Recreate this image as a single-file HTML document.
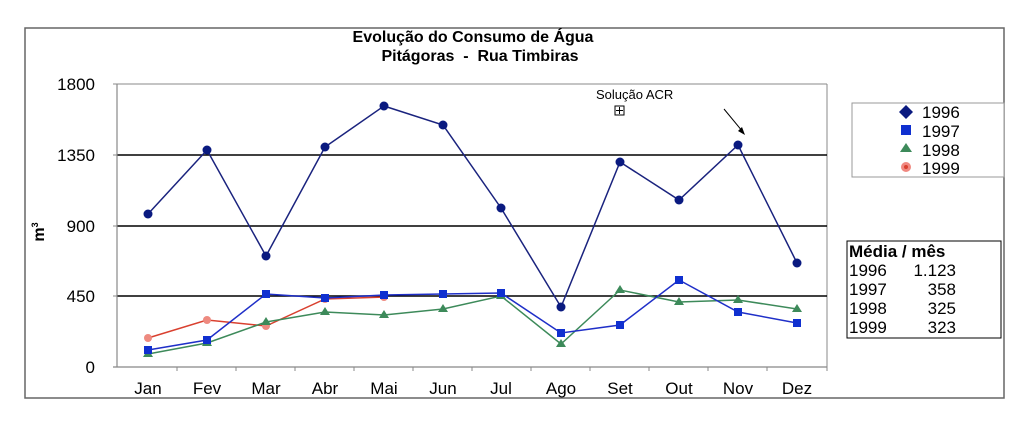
<!DOCTYPE html>
<html><head><meta charset="utf-8"><style>html,body{margin:0;padding:0;background:#fff}svg{display:block}</style></head>
<body>
<svg width="1024" height="421" xmlns="http://www.w3.org/2000/svg" font-family="Liberation Sans, Arial, sans-serif">
<rect x="25" y="28" width="979" height="370" fill="#fff" stroke="#666" stroke-width="1.5"/>
<text x="473" y="42" font-size="16" font-weight="bold" text-anchor="middle">Evolução do Consumo de Água</text>
<text x="480" y="61" font-size="16" font-weight="bold" text-anchor="middle">Pitágoras &#160;- &#160;Rua Timbiras</text>
<!-- plot -->
<line x1="117" y1="84" x2="827" y2="84" stroke="#888" stroke-width="1"/>
<line x1="827" y1="84" x2="827" y2="367" stroke="#888" stroke-width="1"/>
<line x1="117" y1="155" x2="827" y2="155" stroke="#000" stroke-width="1.5"/>
<line x1="117" y1="226" x2="827" y2="226" stroke="#000" stroke-width="1.5"/>
<line x1="117" y1="296" x2="827" y2="296" stroke="#000" stroke-width="1.5"/>
<line x1="117" y1="84" x2="117" y2="367" stroke="#888" stroke-width="1.2"/>
<line x1="113" y1="367" x2="827" y2="367" stroke="#888" stroke-width="1.2"/>
<g stroke="#888" stroke-width="1">
<line x1="113" y1="84" x2="117" y2="84"/><line x1="113" y1="155" x2="117" y2="155"/><line x1="113" y1="226" x2="117" y2="226"/><line x1="113" y1="296" x2="117" y2="296"/>
<line x1="177" y1="367" x2="177" y2="371"/><line x1="236" y1="367" x2="236" y2="371"/><line x1="295" y1="367" x2="295" y2="371"/><line x1="354" y1="367" x2="354" y2="371"/><line x1="413" y1="367" x2="413" y2="371"/><line x1="472" y1="367" x2="472" y2="371"/><line x1="531" y1="367" x2="531" y2="371"/><line x1="590" y1="367" x2="590" y2="371"/><line x1="649" y1="367" x2="649" y2="371"/><line x1="708" y1="367" x2="708" y2="371"/><line x1="767" y1="367" x2="767" y2="371"/><line x1="827" y1="367" x2="827" y2="371"/>
</g>
<g font-size="17" text-anchor="end">
<text x="95" y="90">1800</text><text x="95" y="161">1350</text><text x="95" y="232">900</text><text x="95" y="302">450</text><text x="95" y="373">0</text>
</g>
<text transform="translate(44,232) rotate(-90)" font-size="16" font-weight="bold" text-anchor="middle">m<tspan dy="-6" font-size="9">3</tspan></text>
<g font-size="17" text-anchor="middle">
<text x="148" y="394">Jan</text><text x="207" y="394">Fev</text><text x="266" y="394">Mar</text><text x="325" y="394">Abr</text><text x="384" y="394">Mai</text><text x="443" y="394">Jun</text><text x="501" y="394">Jul</text><text x="561" y="394">Ago</text><text x="620" y="394">Set</text><text x="679" y="394">Out</text><text x="738" y="394">Nov</text><text x="797" y="394">Dez</text>
</g>
<!-- 1999 -->
<polyline fill="none" stroke="#d9402f" stroke-width="1.5" points="148,338 207,320 266,326 325,299 384,297"/>
<g fill="#ee8a80"><circle cx="148" cy="338" r="4"/><circle cx="207" cy="320" r="4"/><circle cx="266" cy="326" r="4"/><circle cx="325" cy="299" r="4"/><circle cx="384" cy="297" r="4"/></g>
<!-- 1998 -->
<polyline fill="none" stroke="#3d8a5a" stroke-width="1.5" points="148,354 207,343 266,322 325,312 384,315 443,309 501,296 561,344 620,290 679,302 738,300 797,309"/>
<g fill="#3d8a5a">
<polygon points="148,349 153,357 143,357"/><polygon points="207,338 212,346 202,346"/><polygon points="266,317 271,325 261,325"/><polygon points="325,307 330,315 320,315"/><polygon points="384,310 389,318 379,318"/><polygon points="443,304 448,312 438,312"/><polygon points="501,291 506,299 496,299"/><polygon points="561,339 566,347 556,347"/><polygon points="620,285 625,293 615,293"/><polygon points="679,297 684,305 674,305"/><polygon points="738,295 743,303 733,303"/><polygon points="797,304 802,312 792,312"/>
</g>
<!-- 1997 -->
<polyline fill="none" stroke="#1f2fc8" stroke-width="1.5" points="148,350 207,340 266,294 325,298 384,295 443,294 501,293 561,333 620,325 679,280 738,312 797,323"/>
<g fill="#1030d0">
<rect x="144" y="346" width="8" height="8"/><rect x="203" y="336" width="8" height="8"/><rect x="262" y="290" width="8" height="8"/><rect x="321" y="294" width="8" height="8"/><rect x="380" y="291" width="8" height="8"/><rect x="439" y="290" width="8" height="8"/><rect x="497" y="289" width="8" height="8"/><rect x="557" y="329" width="8" height="8"/><rect x="616" y="321" width="8" height="8"/><rect x="675" y="276" width="8" height="8"/><rect x="734" y="308" width="8" height="8"/><rect x="793" y="319" width="8" height="8"/>
</g>
<!-- 1996 -->
<polyline fill="none" stroke="#1a237e" stroke-width="1.5" points="148,214 207,150 266,256 325,147 384,106 443,125 501,208 561,307 620,162 679,200 738,145 797,263"/>
<g fill="#0a1a80">
<circle cx="148" cy="214" r="4.5"/><circle cx="207" cy="150" r="4.5"/><circle cx="266" cy="256" r="4.5"/><circle cx="325" cy="147" r="4.5"/><circle cx="384" cy="106" r="4.5"/><circle cx="443" cy="125" r="4.5"/><circle cx="501" cy="208" r="4.5"/><circle cx="561" cy="307" r="4.5"/><circle cx="620" cy="162" r="4.5"/><circle cx="679" cy="200" r="4.5"/><circle cx="738" cy="145" r="4.5"/><circle cx="797" cy="263" r="4.5"/>
</g>
<text x="596" y="99" font-size="13">Solução ACR</text>
<rect x="615" y="106" width="9" height="9" fill="#fff" stroke="#000" stroke-width="1"/>
<line x1="619.5" y1="107" x2="619.5" y2="114" stroke="#000"/><line x1="616" y1="110.5" x2="623" y2="110.5" stroke="#000"/>
<line x1="724" y1="109" x2="743" y2="132" stroke="#000" stroke-width="1"/>
<polygon points="745,135 738,131 742,127" fill="#000"/>
<!-- legend -->
<rect x="852" y="103" width="152" height="74" fill="#fff" stroke="#999" stroke-width="1"/>
<polygon points="906,105 913,112 906,119 899,112" fill="#0a1a80"/>
<rect x="901" y="125" width="10" height="10" fill="#1030d0"/>
<polygon points="906,143 912,152 900,152" fill="#3d8a5a"/>
<circle cx="906" cy="167" r="5" fill="#f08880"/><circle cx="906" cy="167" r="2" fill="#d9402f"/>
<g font-size="17"><text x="922" y="118">1996</text><text x="922" y="137">1997</text><text x="922" y="156">1998</text><text x="922" y="174">1999</text></g>
<!-- media box -->
<rect x="847" y="241" width="154" height="97" fill="#fff" stroke="#000" stroke-width="1"/>
<g font-size="17"><text x="849" y="257" font-weight="bold">Média / mês</text>
<text x="849" y="276">1996</text><text x="849" y="295">1997</text><text x="849" y="314">1998</text><text x="849" y="333">1999</text></g>
<g font-size="17" text-anchor="end"><text x="956" y="276">1.123</text><text x="956" y="295">358</text><text x="956" y="314">325</text><text x="956" y="333">323</text></g>
</svg>
</body></html>
